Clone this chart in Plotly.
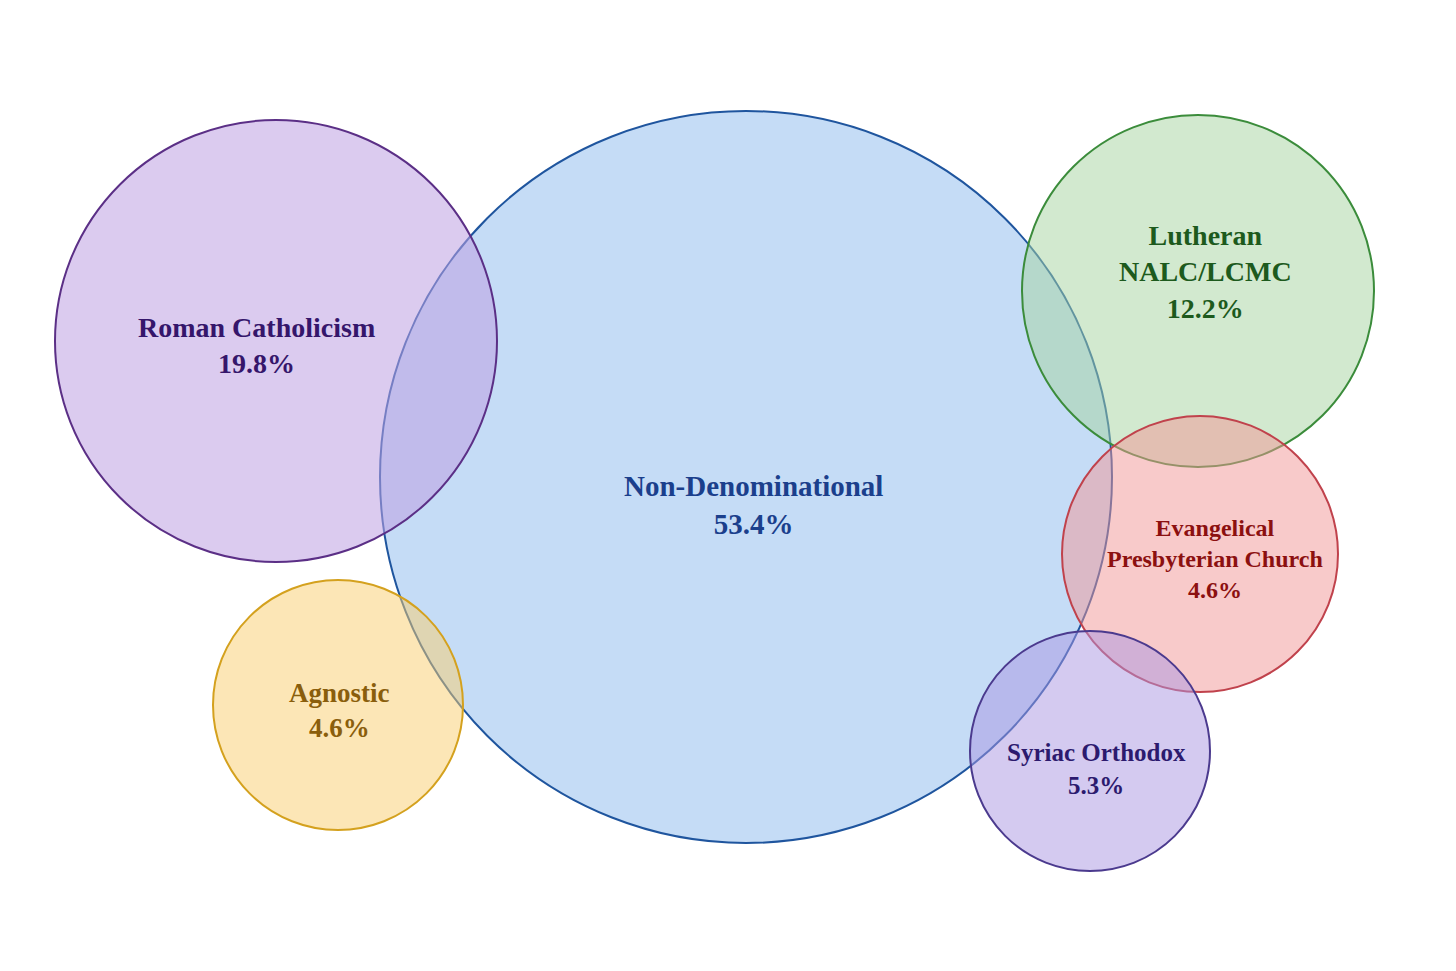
import plotly.graph_objects as go

# groups and shares
groups = ["Non-Denominational", "Roman Catholicism", "Lutheran<br>NALC/LCMC",
          "Evangelical<br>Presbyterian Church", "Syriac Orthodox", "Agnostic"]
shares = [53.4, 19.8, 12.2, 4.6, 5.3, 4.6]

# bubble layout (pixel space)
cx = [738, 268, 1190, 1192, 1082, 330]
cy = [469, 333, 283, 546, 743, 697]
rad = [366, 221, 176, 138, 120, 125]
label_x = [745, 248, 1197, 1207, 1088, 331]
label_y = [497, 337, 264, 551, 761, 702]
font_sz = [29, 28, 28, 24, 25, 27]

fills = ["rgba(150,192,238,0.55)", "rgba(190,160,225,0.55)", "rgba(165,212,160,0.5)",
         "rgba(242,150,150,0.5)", "rgba(170,150,225,0.5)", "rgba(250,205,110,0.5)"]
lines = ["#1f559e", "#5b2f86", "#3b8c3b", "#c0424c", "#4b3a8e", "#d4a11e"]
texts = ["#1b3f8c", "#35166b", "#1d5a1d", "#8c1010", "#2c1a6e", "#8a5e0c"]

fig = go.Figure()
for i in range(len(groups)):
    fig.add_shape(type="circle", xref="x", yref="y",
                  x0=cx[i] - rad[i], x1=cx[i] + rad[i],
                  y0=cy[i] - rad[i], y1=cy[i] + rad[i],
                  fillcolor=fills[i], line=dict(color=lines[i], width=2), layer="below")

for i in range(len(groups)):
    fig.add_annotation(x=label_x[i], y=label_y[i], xref="x", yref="y",
                       text="<b>%s<br>%.1f%%</b>" % (groups[i], shares[i]),
                       showarrow=False,
                       font=dict(family="Liberation Serif", size=font_sz[i], color=texts[i]),
                       align="center")

fig.update_xaxes(range=[0, 1456], visible=False)
fig.update_yaxes(range=[971, 0], visible=False)
fig.update_layout(width=1456, height=971, margin=dict(l=0, r=0, t=0, b=0),
                  plot_bgcolor="white", paper_bgcolor="white", showlegend=False)
fig.write_html("out.html")
